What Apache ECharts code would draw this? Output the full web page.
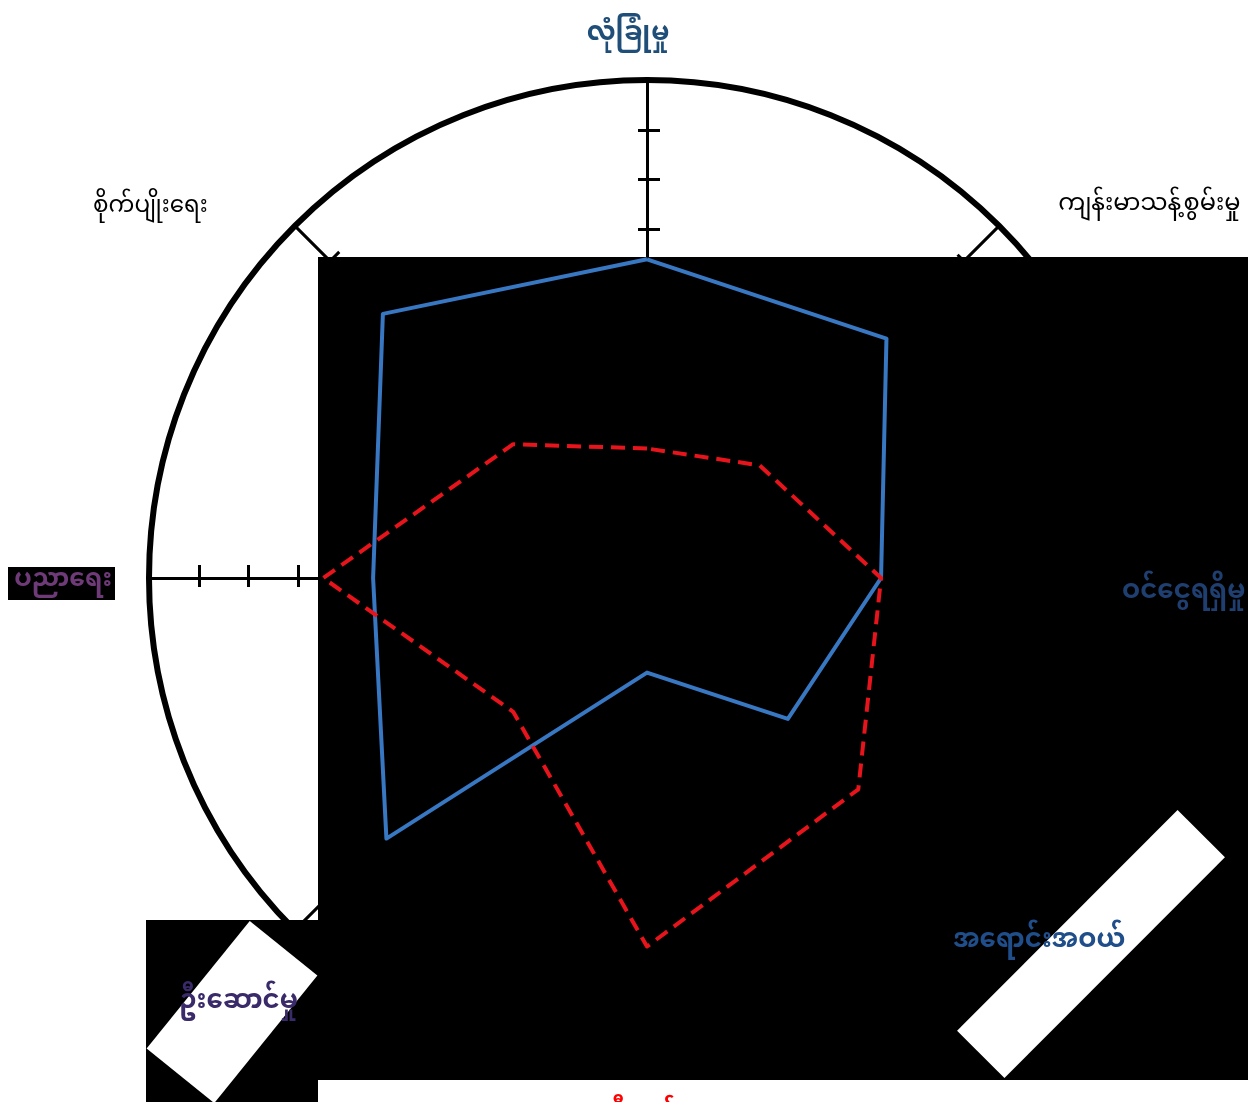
<!DOCTYPE html>
<html><head><meta charset="utf-8">
<script src="https://cdn.jsdelivr.net/npm/echarts@6/dist/echarts.min.js"></script>
<style>html,body{margin:0;padding:0;background:#fff}#c{width:1252px;height:1102px}</style>
</head><body><div id="c"></div>
<script>
// Indicators, counter-clockwise from the top
const categories = ['လုံခြုံမှု', 'စိုက်ပျိုးရေး', 'ပညာရေး', 'ဦးဆောင်မှု', 'ညီညွတ်မှု', 'အရောင်းအဝယ်', 'ဝင်ငွေရရှိမှု', 'ကျန်းမာသန့်စွမ်းမှု'];
const blueValues = [6.4, 7.5, 5.5, 7.4, 1.9, 4.0, 4.7, 6.8];
const redValues = [2.6, 3.8, 6.5, 3.8, 7.4, 6.0, 4.7, 3.2];
const axisMax = 10;
const axisSplits = 10;

const FONT = "'Noto Sans Myanmar', 'Noto Sans', sans-serif";
const nameStyles = [
  { color: '#1f4e79', fontSize: 26, fontWeight: 'bold', padding: [0, 38, 95, 0] },
  { color: '#000000', fontSize: 23, padding: [0, 133, 124, 0] },
  { color: '#6e3a78', fontSize: 25, fontWeight: 'bold', padding: [10, 102, 0, 0] },
  { color: '#3a2a6a', fontSize: 26, fontWeight: 'bold', padding: [242, 43, 0, 0] },
  { color: '#ff0000', fontSize: 24, fontWeight: 'bold', padding: [92, 0, 0, 0] },
  { color: '#1f4e8a', fontSize: 26, fontWeight: 'bold', padding: [120, 0, 0, 0] },
  { color: '#1f3f70', fontSize: 26, fontWeight: 'bold', padding: [34, 0, 0, 42] },
  { color: '#000000', fontSize: 24, padding: [0, 0, 128, 105] }
];
const rich = {};
nameStyles.forEach((s, i) => { rich['n' + i] = Object.assign({ fontFamily: FONT }, s); });

const indicators = categories.map(n => ({ name: n, min: 0, max: axisMax }));
const splitColors = [];
for (let i = 0; i < axisSplits; i++) splitColors.push('rgba(0,0,0,0)');
splitColors.push('#000000');

const baseRadar = {
  center: [647, 578],
  radius: 498,
  shape: 'circle',
  splitNumber: axisSplits,
  indicator: indicators
};

const chart = echarts.init(document.getElementById('c'), null, { renderer: 'canvas' });
chart.setOption({
  backgroundColor: '#ffffff',
  animation: false,
  radar: [
    Object.assign({}, baseRadar, {
      z: 0,
      axisName: { show: false },
      axisLine: { lineStyle: { color: '#000', width: 3 } },
      axisTick: { show: true, length: 9, lineStyle: { color: '#000', width: 3 } },
      splitLine: { lineStyle: { color: splitColors, width: 6 } },
      splitArea: { show: false }
    }),
    Object.assign({}, baseRadar, {
      z: 0,
      axisName: { show: false },
      axisLine: { show: false },
      axisTick: { show: true, length: -13, lineStyle: { color: '#000', width: 3 } },
      splitLine: { show: false },
      splitArea: { show: false }
    }),
    Object.assign({}, baseRadar, {
      z: 5,
      axisNameGap: -65,
      axisName: {
        show: true,
        fontFamily: FONT,
        formatter: function (name) {
          const i = categories.indexOf(name);
          return '{n' + i + '|' + name + '}';
        },
        rich: rich
      },
      axisLine: { show: false },
      axisTick: { show: false },
      splitLine: { show: false },
      splitArea: { show: false }
    })
  ],
  graphic: [
    { type: 'rect', z: 1, shape: { x: 318, y: 257, width: 930, height: 823 }, style: { fill: '#000' } },
    { type: 'rect', z: 1, shape: { x: 146, y: 920, width: 172, height: 182 }, style: { fill: '#000' } },
    { type: 'rect', z: 1, shape: { x: 8, y: 567, width: 107, height: 33 }, style: { fill: '#000' } },
    { type: 'rect', z: 1, z2: 10, x: 232, y: 1012, rotation: -0.68, shape: { x: -43.5, y: -82, width: 87, height: 164 }, style: { fill: '#fff' } },
    { type: 'rect', z: 1, z2: 10, x: 1091, y: 944, rotation: -0.785, shape: { x: -33.5, y: -156, width: 67, height: 312 }, style: { fill: '#fff' } }
  ],
  series: [
    {
      type: 'radar',
      radarIndex: 0,
      z: 3,
      symbol: 'none',
      data: [
        { name: 'A', value: blueValues, lineStyle: { color: '#3877c2', width: 4 } },
        { name: 'B', value: redValues, lineStyle: { color: '#e8141c', width: 4, type: [14, 8] } }
      ]
    }
  ]
});
</script></body></html>
